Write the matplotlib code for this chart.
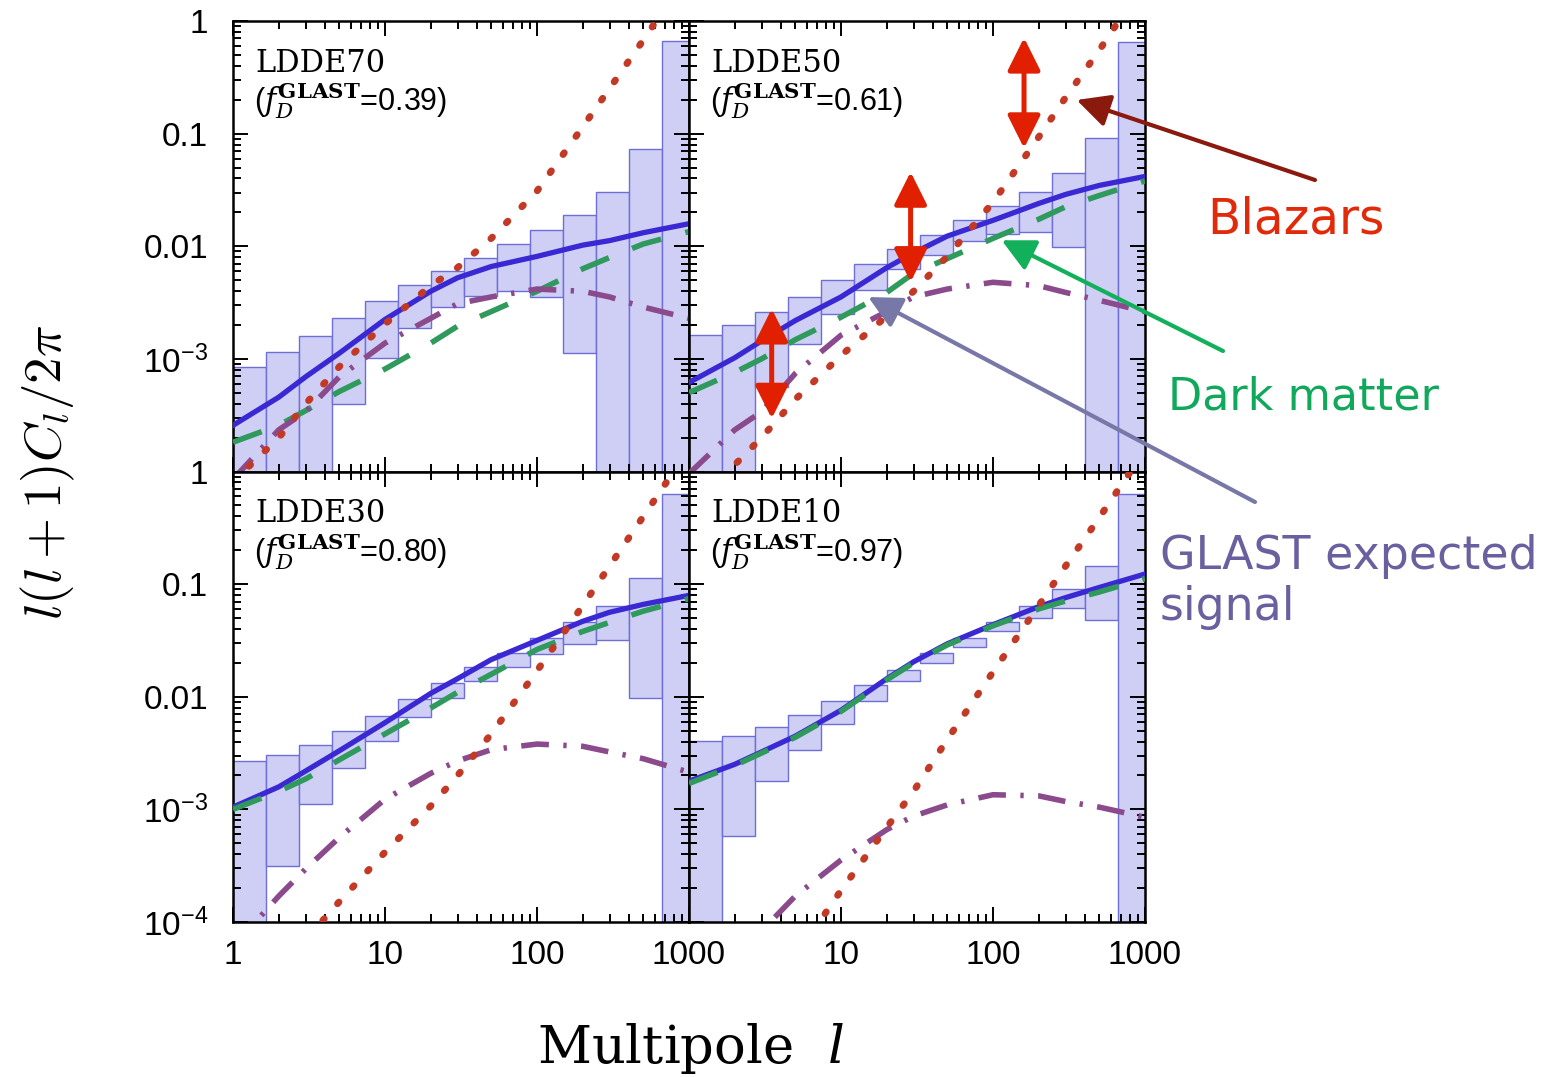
import matplotlib
matplotlib.use('Agg')
import matplotlib.pyplot as plt
import numpy as np
from matplotlib.ticker import LogLocator, NullFormatter

plt.rcParams['font.family'] = 'Liberation Sans'
plt.rcParams['mathtext.fontset'] = 'custom'
plt.rcParams['mathtext.rm'] = 'Liberation Sans'
plt.rcParams['mathtext.it'] = 'Liberation Sans:italic'

W, H = 1557, 1077

# multipoles at which the model curves were read
ell = [1, 2, 3, 5, 10, 20, 30, 50, 100, 200, 300, 500, 1000]
# edges of the GLAST error boxes
bin_edges = [1, 1.65, 2.72, 4.48, 7.39, 12.2, 20.1, 33.1, 54.6, 90.0, 148, 245, 403, 665, 1097]

models = ['LDDE70', 'LDDE50', 'LDDE30', 'LDDE10']
f_dm = ['0.39', '0.61', '0.80', '0.97']

# everything below is log10 of l(l+1)C_l/2pi
# LDDE70
total_70 = [-3.59, -3.34, -3.16, -2.95, -2.65, -2.40, -2.28, -2.18, -2.09, -1.99, -1.95, -1.88, -1.80]
dm_70 = [-3.74, -3.59, -3.46, -3.29, -3.09, -2.86, -2.71, -2.58, -2.40, -2.20, -2.10, -1.98, -1.87]
cross_70 = [-4.07, -3.63, -3.47, -3.16, -2.86, -2.64, -2.51, -2.45, -2.38, -2.40, -2.45, -2.54, -2.64]
blz_70 = [-4.09, -3.70, -3.40, -3.07, -2.69, -2.35, -2.19, -1.93, -1.51, -0.94, -0.60, -0.17, 0.43]
box_top_70 = [-3.07, -2.94, -2.80, -2.64, -2.49, -2.34, -2.22, -2.10, -1.98, -1.86, -1.72, -1.52, -1.14, -0.18]
box_bot_70 = [-5, -5, -5, -3.40, -2.99, -2.73, -2.54, -2.44, -2.40, -2.45, -2.95, -5, -5, -5]

# LDDE50
total_50 = [-3.21, -2.99, -2.84, -2.66, -2.45, -2.19, -2.06, -1.91, -1.77, -1.62, -1.54, -1.46, -1.38]
dm_50 = [-3.30, -3.12, -3.00, -2.83, -2.63, -2.41, -2.24, -2.11, -1.93, -1.76, -1.65, -1.55, -1.42]
cross_50 = [-4.02, -3.63, -3.47, -3.13, -2.79, -2.58, -2.45, -2.38, -2.32, -2.35, -2.41, -2.48, -2.58]
blz_50 = [-4.33, -3.94, -3.70, -3.36, -2.97, -2.62, -2.40, -2.09, -1.61, -1.03, -0.68, -0.26, 0.35]
box_top_50 = [-2.79, -2.70, -2.58, -2.45, -2.30, -2.16, -2.02, -1.90, -1.77, -1.64, -1.52, -1.35, -1.04, -0.19]
box_bot_50 = [-5, -5, -3.25, -2.87, -2.60, -2.39, -2.20, -2.08, -1.95, -1.89, -1.87, -2.01, -5, -5]

# LDDE30
total_30 = [-2.98, -2.80, -2.66, -2.48, -2.23, -1.97, -1.84, -1.67, -1.50, -1.33, -1.25, -1.18, -1.10]
dm_30 = [-3.00, -2.84, -2.73, -2.56, -2.33, -2.10, -1.96, -1.80, -1.58, -1.42, -1.34, -1.24, -1.13]
cross_30 = [-4.22, -3.77, -3.53, -3.25, -2.91, -2.68, -2.57, -2.47, -2.42, -2.44, -2.49, -2.55, -2.67]
blz_30 = [-4.86, -4.42, -4.16, -3.82, -3.38, -2.97, -2.70, -2.33, -1.77, -1.19, -0.84, -0.40, 0.20]
box_top_30 = [-2.57, -2.52, -2.43, -2.30, -2.17, -2.02, -1.88, -1.74, -1.615, -1.48, -1.34, -1.19, -0.945, -0.20]
box_bot_30 = [-5, -3.50, -2.95, -2.63, -2.39, -2.18, -2.01, -1.86, -1.74, -1.62, -1.53, -1.50, -2.01, -5]

# LDDE10
total_10 = [-2.75, -2.60, -2.49, -2.35, -2.12, -1.84, -1.69, -1.53, -1.36, -1.20, -1.12, -1.03, -0.91]
dm_10 = [-2.77, -2.61, -2.50, -2.36, -2.13, -1.85, -1.70, -1.54, -1.37, -1.22, -1.15, -1.07, -0.95]
cross_10 = [-4.70, -4.33, -4.08, -3.77, -3.45, -3.18, -3.06, -2.96, -2.87, -2.88, -2.93, -2.98, -3.07]
blz_10 = [-5.67, -5.08, -4.74, -4.31, -3.72, -3.16, -2.84, -2.38, -1.78, -1.19, -0.84, -0.41, 0.19]
box_top_10 = [-2.39, -2.35, -2.27, -2.16, -2.04, -1.90, -1.76, -1.615, -1.48, -1.34, -1.19, -1.04, -0.84, -0.20]
box_bot_10 = [-5, -3.24, -2.75, -2.47, -2.24, -2.04, -1.86, -1.70, -1.56, -1.42, -1.30, -1.21, -1.32, -5]

# red double arrows in the LDDE50 panel: multipole, lower and upper end
spread_ell = [160, 28.7, 3.5]
spread_lo = [0.0743, 0.00482, 2.95e-4]
spread_hi = [0.71, 0.0457, 2.79e-3]


def px(x, y):
    # image pixel -> figure fraction
    return x / W, 1 - y / H


def draw_panel(ax, name, fd, total, dm, cross, blz, top, bot):
    ax.set_xscale('log')
    ax.set_yscale('log')
    top = np.power(10.0, top)
    bot = np.power(10.0, bot)
    ax.bar(bin_edges[:-1], top - bot, width=np.diff(bin_edges), bottom=bot, align='edge',
           color='#cfcff6', edgecolor='#6e6ed8', linewidth=1.0, zorder=1)
    ax.plot(ell, np.power(10.0, total), color='#3a28d2', lw=3.8, zorder=3)
    ax.plot(ell, np.power(10.0, dm), color='#2f9a5c', lw=4.0, ls=(0, (5.5, 4.5)), zorder=4)
    ax.plot(ell, np.power(10.0, cross), color='#8a4a8c', lw=4.0, ls=(0, (5.0, 2.6, 0.6, 2.6)), zorder=4)
    ax.plot(ell, np.power(10.0, blz), color='#c23a26', lw=5.0, ls=(0, (0.3, 2.9)),
            dash_capstyle='round', zorder=5)
    ax.set_xlim(1, 1000)
    ax.set_ylim(1e-4, 1)
    ax.xaxis.set_minor_locator(LogLocator(base=10, subs=np.arange(2, 10)))
    ax.yaxis.set_minor_locator(LogLocator(base=10, subs=np.arange(2, 10)))
    ax.xaxis.set_minor_formatter(NullFormatter())
    ax.yaxis.set_minor_formatter(NullFormatter())
    ax.tick_params(which='both', direction='in', top=True, right=True, width=1.4, labelsize=24)
    ax.tick_params(which='major', length=11)
    ax.tick_params(which='minor', length=5.5)
    ax.tick_params(axis='y', pad=18)
    ax.tick_params(axis='x', pad=13)
    for s in ax.spines.values():
        s.set_linewidth(1.8)
    ax.text(0.048, 0.906, name, transform=ax.transAxes, fontsize=22, family='DejaVu Serif',
            va='center', ha='left', zorder=6)
    ax.text(0.045, 0.822, r'($f_D^{\mathbf{GLAST}}$=' + fd + ')', transform=ax.transAxes,
            fontsize=22, va='center', ha='left', math_fontfamily='dejavuserif', zorder=6)


fig = plt.figure(figsize=(W / 100, H / 100), dpi=100)
x0, x1 = 233 / W, 1145 / W
y0, y1 = 1 - 922 / H, 1 - 21 / H
w = (x1 - x0) / 2
h = (y1 - y0) / 2

ax_tl = fig.add_axes([x0, y0 + h, w, h])
ax_tr = fig.add_axes([x0 + w, y0 + h, w, h])
ax_bl = fig.add_axes([x0, y0, w, h])
ax_br = fig.add_axes([x0 + w, y0, w, h])

draw_panel(ax_tl, models[0], f_dm[0], total_70, dm_70, cross_70, blz_70, box_top_70, box_bot_70)
draw_panel(ax_tr, models[1], f_dm[1], total_50, dm_50, cross_50, blz_50, box_top_50, box_bot_50)
draw_panel(ax_bl, models[2], f_dm[2], total_30, dm_30, cross_30, blz_30, box_top_30, box_bot_30)
draw_panel(ax_br, models[3], f_dm[3], total_10, dm_10, cross_10, blz_10, box_top_10, box_bot_10)

xt = [1, 10, 100, 1000]
for ax in (ax_tl, ax_tr):
    ax.set_xticks(xt, [])
for ax in (ax_tr, ax_br):
    ax.set_yticks([1e-4, 1e-3, 1e-2, 1e-1, 1], [])
ax_bl.set_xticks(xt, ['1', '10', '100', '1000'])
ax_br.set_xticks(xt, ['', '10', '100', '1000'])
ax_tl.set_yticks([1e-4, 1e-3, 1e-2, 1e-1, 1], ['', r'$10^{-3}$', '0.01', '0.1', '1'])
ax_bl.set_yticks([1e-4, 1e-3, 1e-2, 1e-1, 1], [r'$10^{-4}$', r'$10^{-3}$', '0.01', '0.1', '1'])
for ax in (ax_tl, ax_tr, ax_bl, ax_br):
    ax.set_xlim(1, 1000)
    ax.set_ylim(1e-4, 1)

# spread of the blazar models
for l, lo, hi in zip(spread_ell, spread_lo, spread_hi):
    ax_tr.annotate('', xy=(l, hi), xytext=(l, lo),
                   arrowprops=dict(arrowstyle='<|-|>,head_length=1.0,head_width=0.5',
                                   color='#e02000', lw=3.6, mutation_scale=20,
                                   shrinkA=0, shrinkB=0), zorder=10)

# labelled pointers
pointers = [((355, 0.199), (1315, 180), '#8b1a0e'),
            ((114, 0.0113), (1223, 351), '#12b05a'),
            ((15.1, 3.54e-3), (1255, 502), '#7878a8')]
for head, tail, col in pointers:
    ax_tr.annotate('', xy=head, xycoords='data', xytext=(tail[0], H - tail[1]),
                   textcoords='figure pixels', annotation_clip=False,
                   arrowprops=dict(arrowstyle='-|>,head_length=1.0,head_width=0.5',
                                   color=col, lw=3.0, mutation_scale=20,
                                   shrinkA=0, shrinkB=0), zorder=10)

fig.text(*px(1207, 234), 'Blazars', color='#e02a0a', fontsize=35, family='DejaVu Sans',
         ha='left', va='baseline')
fig.text(*px(1168, 410), 'Dark matter', color='#10a85a', fontsize=32, family='DejaVu Sans',
         ha='left', va='baseline')
fig.text(*px(1160, 569), 'GLAST expected', color='#6a60a0', fontsize=33, family='DejaVu Sans',
         ha='left', va='baseline')
fig.text(*px(1160, 620), 'signal', color='#6a60a0', fontsize=33, family='DejaVu Sans',
         ha='left', va='baseline')

fig.text(*px(48, 472), r'$l(l+1)C_l/2\pi$', rotation=90, ha='center', va='center',
         fontsize=38, math_fontfamily='cm')
fig.text(*px(690, 1048), r'Multipole  $l$', ha='center', va='center', fontsize=38,
         family='DejaVu Serif', math_fontfamily='dejavuserif')

fig.savefig('out.png', dpi=100)
